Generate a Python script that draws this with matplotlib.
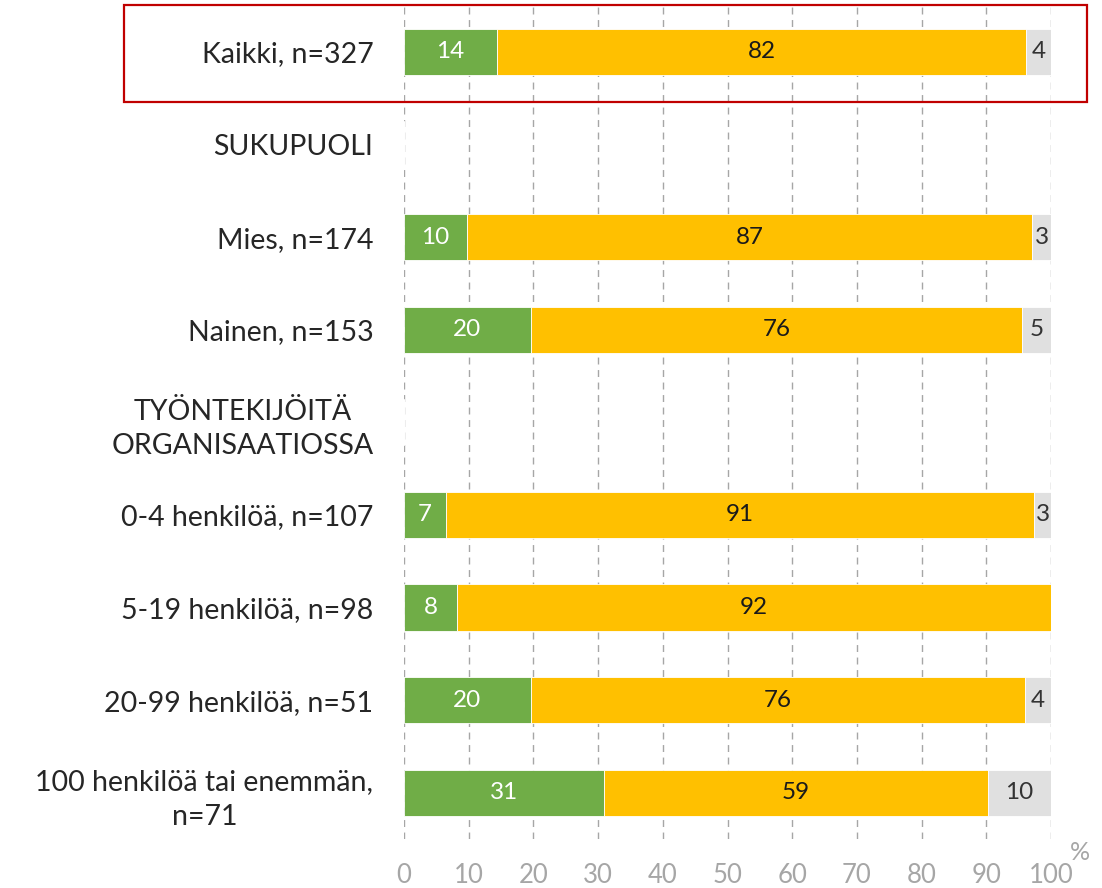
import numpy as np
import matplotlib
matplotlib.use("Agg")
import matplotlib.pyplot as plt
from matplotlib.patches import Rectangle

plt.rcParams['font.family'] = ['Lato', 'DejaVu Sans']

categories = ['Kaikki, n=327', 'SUKUPUOLI', 'Mies, n=174', 'Nainen, n=153',
              'TYÖNTEKIJÖITÄ\nORGANISAATIOSSA', '0-4 henkilöä, n=107',
              '5-19 henkilöä, n=98', '20-99 henkilöä, n=51',
              '100 henkilöä tai enemmän,\nn=71']
green_vals = [14.4, np.nan, 9.7, 19.6, np.nan, 6.5, 8.2, 19.6, 30.9]
yellow_vals = [81.7, np.nan, 87.4, 75.9, np.nan, 90.9, 91.8, 76.4, 59.4]
gray_vals = [3.9, np.nan, 2.9, 4.5, np.nan, 2.6, 0.0, 4.0, 9.7]
xticks = [0, 10, 20, 30, 40, 50, 60, 70, 80, 90, 100]

series = [(green_vals, '#70AD47', 'white'),
          (yellow_vals, '#FFC000', '#1a1a1a'),
          (gray_vals, '#E0E0E0', '#333333')]

fig = plt.figure(figsize=(11.02, 8.88), dpi=100)
ax = fig.add_axes([404/1102, 1-839/888, (1051-404)/1102, (839-5.7)/888])

y = np.arange(len(categories))
left = np.zeros(len(categories))
for vals, col, tcol in series:
    v = np.nan_to_num(np.array(vals, dtype=float))
    ax.barh(y, v, left=left, height=0.5, color=col, zorder=2,
            edgecolor='white', linewidth=0.6)
    for yi, vi, li in zip(y, v, left):
        if vi > 0:
            ax.text(li + vi/2, yi, f"{int(vi + 0.5)}", ha='center', va='center',
                    color=tcol, fontsize=17.5, zorder=3)
    left = left + v

ax.set_xlim(0, 100)
ax.set_ylim(len(categories) - 0.5, -0.5)
ax.set_xticks(xticks)
ax.set_xticklabels([str(t) for t in xticks], color='#A6A6A6', fontsize=18.5)
ax.set_yticks(y)
ax.set_yticklabels(categories, fontsize=20.5, color='#262626')
for t in ax.get_yticklabels():
    t.set_multialignment('center')
    t.set_linespacing(1.4)
ax.tick_params(axis='y', length=0, pad=22)
ax.tick_params(axis='x', length=0, pad=17)
for s in ax.spines.values():
    s.set_visible(False)
ax.xaxis.grid(True, linestyle=(0, (5, 4)), color='#A6A6A6', linewidth=1, zorder=0)
ax.set_axisbelow(True)

fig.text(1080/1102, 1-852/888, '%', color='#A6A6A6', fontsize=18,
         ha='center', va='center')

fig.patches.append(Rectangle((124/1102, 1-102/888), 963/1102, 97/888,
                             transform=fig.transFigure, fill=False,
                             edgecolor='#C00000', linewidth=1.6))

fig.savefig('out.png', dpi=100)
